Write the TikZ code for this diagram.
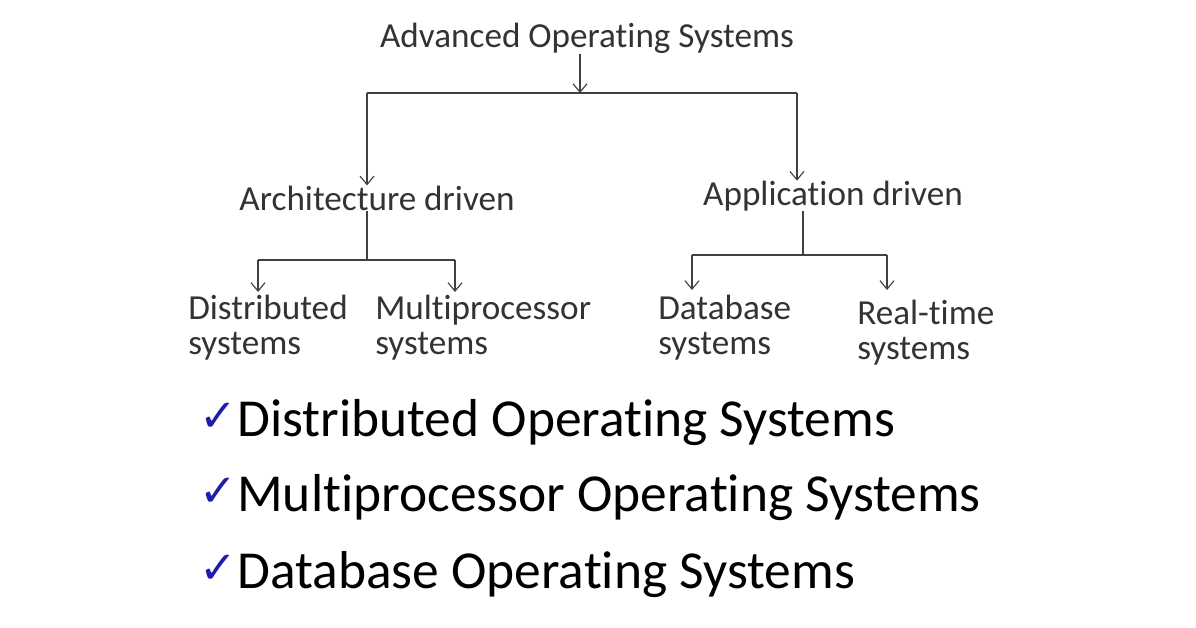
\documentclass[tikz,border=0pt]{standalone}
\usepackage{fontspec}
\setmainfont[Ligatures={NoCommon,NoContextual}]{Carlito}
\newfontfamily\symfont{DejaVu Sans}
\usetikzlibrary{arrows.meta, positioning}
\definecolor{tickblue}{RGB}{30,30,170}

\begin{document}
\begin{tikzpicture}[
        x=0.025cm, y=-0.025cm,
        % Styles
        label/.style={
            font=\fontsize{25}{25}\selectfont,
            text=black!80,
            inner sep=0pt
          },
        leaf/.style={
            label,
            align=left,
            anchor=west
          },
        item/.style={
            font=\fontsize{38}{40}\selectfont,
            anchor=west,
            inner sep=0pt
          },
        tick/.style={
            font=\symfont\fontsize{32}{34}\selectfont,
            text=tickblue,
            anchor=east,
            inner sep=0pt,
            yshift=4pt
          },
        link/.style={
            draw=black!75,
            thick
          },
        arrow/.style={
            link,
            -{Straight Barb[length=6pt, width=10pt]}
          }
      ]
      \useasboundingbox[fill=white] (0,0) rectangle (1196,628);

      % Tree labels
      \node[label] (aos) at (587,38) {Advanced Operating Systems};
      \node[label] (arch) at (377,198) {Architecture driven};
      \node[label] (appl) at (833,196) {Application driven};
      \node[leaf] (dist) at (188,328) {Distributed\\systems};
      \node[leaf] (multi) at (375,328) {Multiprocessor\\systems};
      \node[leaf] (db) at (658,328) {Database\\systems};
      \node[leaf] (rt) at (857,333) {Real-time\\systems};

      % Junction points
      \coordinate (top) at (580,93);
      \coordinate (topL) at (367,93);
      \coordinate (topR) at (797,93);
      \coordinate (archJ) at (367,260);
      \coordinate (archL) at (258,260);
      \coordinate (archR) at (455,260);
      \coordinate (applJ) at (803,255);
      \coordinate (applL) at (692,255);
      \coordinate (applR) at (887,255);

      % Connectors
      \draw[arrow] (aos.south -| top) -- (top);
      \draw[link] (topL) -- (topR);
      \draw[arrow] (topL) -- (topL |- arch.north);
      \draw[arrow] (topR) -- (topR |- appl.north);
      \draw[link] (arch.south -| archJ) -- (archJ);
      \draw[link] (archL) -- (archR);
      \draw[arrow] (archL) -- ++(0,32);
      \draw[arrow] (archR) -- ++(0,32);
      \draw[link] (appl.south -| applJ) -- (applJ);
      \draw[link] (applL) -- (applR);
      \draw[arrow] (applL) -- ++(0,35);
      \draw[arrow] (applR) -- ++(0,35);

      % Checked list
      \node[item] (dos) at (237,423) {Distributed Operating Systems};
      \node[item] (mos) at (237,498) {Multiprocessor Operating Systems};
      \node[item] (dbos) at (237,575) {Database Operating Systems};
      \node[tick] at (dos.west) {✓};
      \node[tick] at (mos.west) {✓};
      \node[tick] at (dbos.west) {✓};
    \end{tikzpicture}
\end{document}
